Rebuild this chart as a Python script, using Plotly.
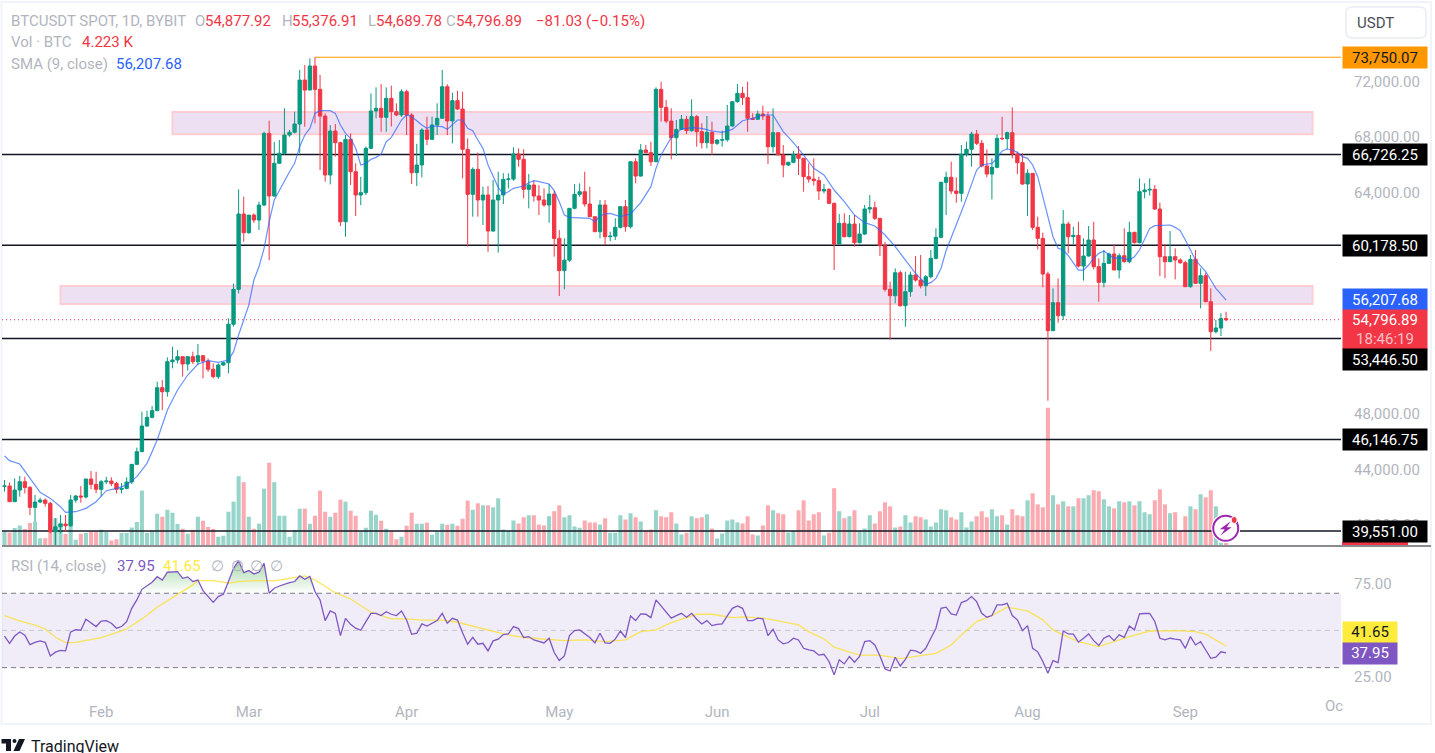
import numpy as np
import pandas as pd
import plotly.graph_objects as go

W, H = 1435, 753

# daily candles (Jan 13 .. Sep 9 2024)
dates = pd.date_range("2024-01-13", "2024-09-09", freq="D")

opens = [
    42770, 42790, 41660, 42500, 43100, 42690, 41250, 41635, 41780, 41540,
    39490, 39850, 40045, 39925, 41780, 42070, 42000, 43295, 42910, 42550,
    43100, 43150, 42980, 42550, 42620, 43080, 44355, 45270, 47120, 47750,
    48230, 49890, 49600, 51770, 51890, 52130, 51600, 52130, 51770, 52200,
    51810, 51220, 50685, 51530, 51695, 54470, 56990, 62430, 61080, 62350,
    61995, 63080, 68250, 63730, 66090, 66810, 68130, 68330, 68930, 72100,
    71380, 73115, 71430, 69500, 65245, 68420, 67580, 61870, 67820, 65485,
    63800, 63970, 67170, 69865, 70060, 69410, 70780, 69820, 69580, 71260,
    69577, 65413, 65967, 68494, 67820, 68855, 69340, 71620, 69145, 70613,
    70010, 67100, 63849, 65654, 63440, 63800, 61200, 63440, 63800, 64930,
    64950, 66760, 66380, 64210, 64520, 63730, 63440, 63080, 63870, 60670,
    58340, 59100, 62840, 63850, 64040, 63150, 62236, 61150, 63080, 60790,
    60830, 61465, 62960, 61514, 66200, 65170, 67050, 66860, 66200, 71430,
    70130, 69140, 67940, 68540, 69265, 68446, 69457, 68370, 67580, 68325,
    67530, 67770, 67790, 68783, 70540, 71140, 70830, 69337, 69265, 69650,
    69505, 67290, 68300, 66690, 65967, 66160, 66737, 66450, 65125, 64950,
    64840, 64090, 64210, 63200, 60262, 61755, 60792, 61707, 60360, 60984,
    62790, 62886, 62116, 60142, 56990, 56530, 58190, 55810, 56820, 58025,
    57660, 57250, 57900, 59230, 60745, 64715, 65080, 64090, 63920, 66738,
    67100, 68205, 67532, 65895, 65317, 65800, 67893, 67870, 68300, 66762,
    66136, 64595, 65365, 61466, 60672, 58097, 54005, 56026, 55088, 61707,
    60792, 60890, 58674, 59396, 60552, 58626, 57495, 58866, 59540, 58385,
    59420, 58987, 61105, 60360, 64042, 64160, 64210, 62790, 59348, 58987,
    59348, 59108, 58915, 57182, 59155, 57423, 57976, 56098, 53933, 54197,
    54877.92,
]
closes = [
    42790, 41660, 42500, 43100, 42690, 41250, 41635, 41780, 41540, 39490,
    39850, 40045, 39925, 41780, 42070, 42000, 43295, 42910, 42550, 43100,
    43150, 42980, 42550, 42620, 43080, 44355, 45270, 47120, 47750, 48230,
    49890, 49600, 51770, 51890, 52130, 51600, 52130, 51770, 52200, 51810,
    51220, 50685, 51530, 51695, 54470, 56990, 62430, 61080, 62350, 61995,
    63080, 68250, 63730, 66090, 66810, 68130, 68330, 68930, 72100, 71380,
    73115, 71430, 69500, 65245, 68420, 67580, 61870, 67820, 65485, 63800,
    63970, 67170, 69865, 70060, 69410, 70780, 69820, 69580, 71260, 69577,
    65413, 65967, 68494, 67820, 68855, 69340, 71620, 69145, 70613, 70010,
    67100, 63849, 65654, 63440, 63800, 61200, 63440, 63800, 64930, 64950,
    66760, 66380, 64210, 64520, 63730, 63440, 63080, 63870, 60670, 58340,
    59100, 62840, 63850, 64040, 63150, 62236, 61150, 63080, 60790, 60830,
    61465, 62960, 61514, 66200, 65170, 67050, 66860, 66200, 71430, 70130,
    69140, 67940, 68540, 69265, 68446, 69457, 68370, 67580, 68325, 67530,
    67770, 67790, 68783, 70540, 71140, 70830, 69337, 69265, 69650, 69505,
    67290, 68300, 66690, 65967, 66160, 66737, 66450, 65125, 64950, 64840,
    64090, 64210, 63200, 60262, 61755, 60792, 61707, 60360, 60984, 62790,
    62886, 62116, 60142, 56990, 56530, 58190, 55810, 56820, 58025, 57660,
    57250, 57900, 59230, 60745, 64715, 65080, 64090, 63920, 66738, 67100,
    68205, 67532, 65895, 65317, 65800, 67893, 67870, 68300, 66762, 66136,
    64595, 65365, 61466, 60672, 58097, 54005, 56026, 55088, 61707, 60792,
    60890, 58674, 59396, 60552, 58626, 57495, 58866, 59540, 58385, 59420,
    58987, 61105, 60360, 64042, 64160, 64210, 62790, 59348, 58987, 59348,
    59108, 58915, 57182, 59155, 57423, 57976, 56098, 53933, 54197, 54877.92,
    54796.89,
]
highs = [
    43220, 43050, 43340, 43510, 43460, 42790, 42140, 41950, 41900, 41660,
    40455, 40700, 40700, 42140, 42140, 42790, 43295, 43870, 43825, 43220,
    43460, 43420, 43100, 43000, 43420, 44355, 45560, 48160, 48230, 48570,
    50320, 50440, 52080, 52850, 52610, 52130, 52130, 52490, 53040, 52250,
    52000, 51650, 51650, 51770, 54900, 57400, 64210, 63680, 62350, 62480,
    63320, 68370, 69170, 67650, 67770, 70060, 68500, 69820, 72830, 73180,
    73670, 73750, 72470, 69700, 68850, 68930, 67650, 68130, 68250, 66090,
    65120, 67300, 71140, 71575, 71815, 71575, 71700, 70420, 71430, 71400,
    69700, 67500, 68620, 69457, 69457, 70420, 72827, 71800, 71190, 71330,
    71260, 67890, 65800, 66860, 64400, 64450, 64880, 65485, 65370, 65370,
    67240, 67170, 67100, 65316, 64836, 64520, 64280, 64600, 64110, 61270,
    60670, 62840, 64590, 64640, 65485, 64400, 62240, 63440, 63440, 61150,
    62120, 62960, 63440, 66250, 66450, 67480, 67410, 67650, 71576, 71985,
    70660, 70060, 69216, 69577, 69505, 70709, 69577, 68976, 69505, 69095,
    67820, 68446, 70300, 70540, 71816, 71623, 71985, 69697, 69890, 70252,
    69818, 70059, 68300, 67411, 66208, 67000, 67338, 66448, 66087, 66448,
    65124, 64595, 64282, 63250, 62429, 62477, 62357, 62357, 61755, 63079,
    63800, 63319, 62116, 60430, 57550, 58505, 58337, 58265, 58265, 59396,
    59468, 58024, 59830, 61394, 64764, 65486, 66208, 65077, 67412, 67652,
    68374, 68495, 67773, 67099, 66449, 68182, 69457, 68374, 70131, 66930,
    66810, 65655, 65365, 62236, 61081, 58265, 57061, 57784, 62718, 61875,
    61514, 61875, 60672, 61561, 61875, 59226, 59829, 59636, 60239, 59588,
    61394, 61875, 61153, 65004, 64643, 65004, 64522, 63247, 60264, 61201,
    59950, 59228, 59059, 59468, 59829, 58505, 58192, 57061, 54775, 55256,
    55376.91,
]
lows = [
    42380, 41660, 41660, 42020, 42260, 40700, 40210, 41550, 41300, 39370,
    38400, 39370, 39490, 39850, 41590, 41585, 41900, 42550, 42260, 42020,
    42930, 42780, 42260, 42260, 42560, 42935, 44310, 45270, 47070, 47670,
    48230, 48280, 49240, 51290, 51650, 50685, 51120, 51600, 51530, 50560,
    51030, 50560, 50520, 51450, 50925, 54300, 56700, 60430, 61000, 61790,
    61270, 63000, 59100, 63680, 66100, 66700, 68000, 68250, 66810, 68730,
    71380, 68970, 65600, 64760, 64570, 66570, 61560, 60790, 64520, 62280,
    63080, 63800, 67170, 69340, 68370, 68370, 68750, 69500, 69450, 68130,
    64595, 64450, 65076, 67410, 67820, 68130, 69340, 68130, 67530, 69930,
    65000, 60070, 62236, 62236, 61634, 59700, 61150, 59640, 63150, 64280,
    64830, 65850, 63560, 62840, 63320, 62355, 62960, 61800, 59350, 56510,
    56990, 58980, 62760, 63680, 62960, 62270, 61150, 60670, 60190, 60460,
    60550, 61390, 61150, 61390, 64640, 65125, 66860, 65894, 66200, 69096,
    68976, 66376, 66617, 68494, 68205, 68374, 67290, 67170, 67170, 66689,
    67411, 67290, 67650, 68735, 70468, 70300, 68370, 69216, 69216, 69216,
    66040, 66858, 66690, 65076, 65895, 66087, 65245, 64040, 64692, 64492,
    63440, 63920, 63150, 58385, 60262, 60743, 60743, 60070, 60310, 60912,
    62477, 61995, 59396, 56821, 53378, 55979, 55737, 54290, 56460, 57543,
    57061, 56508, 57783, 59155, 60671, 62357, 63873, 63247, 63319, 66570,
    65845, 67412, 65799, 65075, 63488, 65728, 67773, 67099, 66449, 65317,
    64523, 62285, 61273, 59870, 57133, 48950, 54005, 54583, 54775, 59588,
    60262, 58578, 57616, 59348, 58433, 56100, 57134, 58818, 58385, 57785,
    58915, 58867, 60310, 60310, 63560, 63753, 62718, 57952, 57784, 58963,
    57712, 58819, 57182, 57110, 57423, 55616, 56098, 52536, 53812, 53620,
    54689.78,
]
# volume in thousands of BTC
volumes = [
    21, 19.5, 26, 30, 24.5, 33.5, 35.5, 11, 11, 26,
    41, 34, 17, 41, 8.5, 17.5, 18.5, 21, 21, 23.5,
    20, 7.5, 9.5, 18.5, 18.5, 27, 35, 82, 18.5, 22.5,
    47.5, 43, 53.5, 49, 32, 25, 17.5, 23.5, 43, 37,
    27.5, 24.5, 13, 14.5, 50.5, 65.5, 103.5, 94.5, 43, 25,
    32.5, 85, 123.5, 94.5, 44.5, 44.5, 13, 23, 55, 55,
    32.5, 44.5, 82, 50.5, 43, 49, 68.5, 65.5, 52, 44.5,
    21, 26.5, 52, 46, 37, 25, 21, 9.5, 13, 29.5,
    49, 32.5, 32.5, 34, 16, 21, 32.5, 31, 32.5, 29.5,
    40, 67, 53.5, 63, 60, 60, 57, 70.5, 24, 22,
    37.5, 33, 42, 45, 45, 31.5, 30, 43.5, 51, 60,
    42, 45, 28.5, 26.5, 37.5, 34.5, 34.5, 31.5, 40.5, 19,
    19, 45, 39, 48, 42, 36, 22, 24, 52.5, 43.5,
    42, 49.5, 33, 16.5, 19, 43.5, 40.5, 42, 46.5, 25.5,
    10.5, 18, 37.5, 39, 34.5, 33, 43.5, 16.5, 15, 30,
    60, 52.5, 48, 46.5, 19.5, 22, 52.5, 67.5, 37.5, 46.5,
    49.5, 15, 19, 85.5, 51, 40.5, 43.5, 52.5, 22, 25.5,
    45, 33, 51, 64.5, 58.5, 27, 28.5, 45, 34.5, 43.5,
    42, 39, 28.5, 34.5, 54, 52.5, 42, 39, 49.5, 27,
    36, 43.5, 51, 42, 54, 43.5, 45, 31.5, 54, 45,
    43.5, 67.5, 78, 61.5, 57, 205.5, 75, 61.5, 66, 58.5,
    58.5, 70.5, 70.5, 75, 82.5, 81, 69, 58.5, 55.5, 66,
    64.5, 66, 60, 66, 49.5, 46.5, 67.5, 84, 61.5, 48,
    49.5, 22, 43.5, 58.5, 54, 76.5, 72, 82.5, 58.5, 4,
    4.223,
]
rsi = [
    47, 43.1, 47, 49.2, 47.4, 42.4, 43.6, 44.4, 43.6, 36.3,
    38.3, 39.3, 39, 49.2, 50.4, 50.1, 56, 53.9, 52.1, 55,
    55.3, 53.9, 51.2, 52.1, 54.7, 61.9, 66.4, 72.1, 73.9, 75.9,
    78.9, 77.1, 81.3, 81.4, 81.6, 78, 78.8, 76.3, 77.1, 71.4,
    68.5, 65.1, 68.2, 69.4, 76.3, 83.4, 87.5, 81.1, 82.2, 80.4,
    81.3, 86.1, 70, 72.7, 73.9, 75, 75.7, 76.3, 79.3, 77.5,
    79, 70.9, 66.4, 55.3, 60.5, 59.2, 47.2, 56.5, 53.3, 51.2,
    50.1, 54.7, 59.2, 59.2, 58, 60.1, 58.7, 58, 60.5, 55.6,
    47.9, 48.5, 53.5, 52.4, 53.9, 55.3, 59.2, 53.9, 56.5, 55.6,
    48.8, 42.6, 46.3, 42.6, 43.1, 39, 44.4, 45.3, 47.8, 48.1,
    52.1, 51, 46.2, 46.7, 44.9, 44.2, 43.3, 45.8, 38.1, 33.8,
    36.3, 47.2, 49.9, 50.3, 48.1, 46.2, 43.3, 48.5, 43.3, 43.1,
    45.3, 49.7, 46.2, 57.8, 55.3, 58.9, 58.7, 56.9, 66.4, 63.2,
    60.1, 56.6, 58, 59.2, 57.1, 59.2, 56, 53.5, 55.3, 52.6,
    53.3, 53.5, 57.8, 61.9, 63.2, 61.9, 55.3, 55.3, 56.6, 56.2,
    47.2, 50.6, 44.9, 42.8, 43.5, 45.8, 44.9, 40.4, 39.5, 39,
    36.7, 37.2, 33.3, 26.1, 34.2, 32, 36, 32.9, 36, 44,
    44.5, 42.2, 36.3, 29.3, 28.2, 35.6, 30.9, 34.5, 39.4, 39,
    37.7, 40.4, 45.8, 51.2, 61.9, 62.5, 58.9, 58.3, 65, 66,
    68.2, 65.5, 59.2, 57.1, 58, 63.7, 63.7, 64.6, 58, 55.7,
    49.9, 52.6, 40.4, 38.5, 33.3, 27, 33.8, 32.7, 49.7, 48.1,
    48, 43.7, 45.8, 48.1, 44.5, 41.9, 45.8, 47.2, 44.5, 47.6,
    46.3, 52.4, 50.3, 58.9, 59.1, 59.1, 54.8, 45.8, 44.9, 45.8,
    45.3, 44.9, 40.4, 46.7, 42.2, 44, 39.5, 35, 35.6, 38.5,
    37.95,
]
# moving averages were read at these candle numbers only
sma_idx = [
    0, 1, 3, 5, 7, 9, 11, 12, 14, 16, 18, 20, 22, 24, 26, 28, 30, 32, 34, 36,
    38, 40, 42, 44, 45, 46, 47, 48, 49, 50, 51, 52, 53, 54, 55, 56, 57, 58, 59,
    60, 61, 62, 64, 65, 66, 67, 68, 69, 70, 71, 72, 73, 74, 75, 76, 77, 78, 79,
    80, 81, 82, 83, 84, 86, 87, 89, 90, 91, 92, 93, 94, 95, 96, 97, 98, 99, 100,
    101, 102, 103, 104, 105, 106, 107, 108, 109, 110, 111, 115, 116, 117, 118,
    119, 120, 121, 123, 124, 125, 127, 128, 129, 131, 133, 135, 137, 139, 141,
    143, 145, 147, 149, 151, 153, 155, 157, 159, 161, 163, 165, 167, 169, 171,
    173, 175, 177, 179, 181, 182, 183, 184, 185, 186, 187, 188, 189, 190, 191,
    192, 193, 194, 195, 196, 197, 198, 199, 200, 201, 202, 203, 204, 205, 206,
    207, 208, 209, 210, 211, 212, 213, 214, 215, 216, 217, 218, 219, 220, 221,
    222, 223, 224, 225, 226, 227, 228, 229, 230, 231, 232, 233, 234, 235, 236,
    237, 238, 239, 240,
]
sma_vals = [
    44956, 44620, 44378, 43344, 42332, 41899, 41297, 40888, 40936, 41177, 41658,
    42453, 42621, 42862, 43464, 44427, 46111, 48278, 49722, 50805, 51600, 51840,
    51720, 51888, 52490, 53693, 54776, 55860, 57662, 58625, 59950, 61875, 63440,
    64161, 64763, 65485, 66086, 67290, 68133, 68614, 69697, 69890, 69890, 69697,
    68855, 68253, 67892, 67170, 65966, 66086, 66375, 66520, 66760, 67651, 67964,
    68614, 69216, 69577, 69457, 69168, 68855, 68614, 68783, 68735, 68542, 69216,
    69216, 68615, 68446, 67772, 67170, 65967, 65124, 64354, 63873, 64041, 64282,
    64354, 64450, 64691, 64836, 64764, 64691, 64595, 64114, 63319, 62356, 62188,
    62116, 61875, 62284, 62429, 62477, 62356, 62236, 62429, 62838, 63247, 64402,
    65726, 66689, 67965, 68566, 68663, 68615, 68422, 68326, 68542, 69168, 69337,
    69578, 69578, 68374, 67580, 66689, 65726, 65245, 64162, 63319, 62356, 61803,
    61562, 60912, 60070, 59107, 58144, 57374, 57470, 57783, 58500, 59800, 60700,
    61635, 62597, 63560, 64643, 65606, 65967, 66040, 66088, 66449, 66978, 67123,
    67050, 66882, 66569, 66449, 65967, 65125, 63681, 62116, 60792, 59950, 59830,
    59420, 58866, 58385, 58385, 58746, 59228, 59589, 59757, 59468, 59228, 59276,
    59228, 59108, 59348, 59830, 60672, 61394, 61587, 61587, 61635, 61635, 61466,
    61225, 60552, 59830, 59108, 58674, 58265, 57663, 57062, 56652, 56207.68,
]
rsi_ma_idx = [
    0, 3, 6, 8, 10, 12, 14, 17, 19, 22, 24, 27, 30, 34, 37, 38, 41, 44, 46, 49,
    53, 56, 59, 61, 65, 68, 72, 76, 79, 82, 86, 89, 93, 98, 102, 106, 110, 114,
    118, 122, 125, 128, 131, 136, 139, 143, 145, 149, 151, 156, 158, 161, 163,
    166, 168, 172, 176, 180, 183, 186, 188, 191, 194, 197, 201, 204, 206, 208,
    211, 215, 219, 221, 225, 230, 234, 236, 240,
]
rsi_ma_vals = [
    58, 55.1, 52.9, 50.8, 46.3, 43.5, 43.6, 44.9, 46.1, 48.8, 50.8, 56.2, 62.5,
    69.4, 74.5, 76.8, 76.8, 75.4, 76.3, 76.8, 76.6, 78, 79.3, 77.1, 70.3, 66.9,
    59.8, 56.2, 56.2, 55.6, 55.6, 54.4, 51.5, 48.1, 46.2, 45.4, 44.5, 44.9, 44,
    44.9, 49.4, 50.3, 54.2, 58.7, 58.7, 56.9, 57.3, 56.6, 55.7, 53, 49.4, 45.4,
    41, 38.3, 36.7, 36.7, 34.9, 36.5, 37.7, 42.2, 47.6, 54.8, 58, 62.5, 60.5,
    55.7, 50.3, 47.6, 44, 41.3, 44.9, 46.7, 49.7, 49.9, 49.4, 48, 41.65,
]

level_prices = [66726.25, 60178.50, 53446.50, 46146.75, 39551.00]
ath_price = 73750.07
last_price = 54796.89
zone_tops = [69795, 57232]
zone_bottoms = [68184, 55932]
zone_starts = ["2024-02-15", "2024-01-24"]
zone_end = "2024-09-26"

price_ticks = [72000, 68000, 64000, 48000, 44000, 40000]
rsi_ticks = [75, 25]
rsi_levels = [70, 50, 30]
month_ticks = ["2024-02-01", "2024-03-01", "2024-04-01", "2024-05-01",
               "2024-06-01", "2024-07-01", "2024-08-01", "2024-09-01"]
month_labels = ["Feb", "Mar", "Apr", "May", "Jun", "Jul", "Aug", "Sep"]

for series in (opens, closes, highs, lows, volumes, rsi):
    assert len(series) == len(dates), len(series)
assert len(sma_idx) == len(sma_vals), (len(sma_idx), len(sma_vals))
assert len(rsi_ma_idx) == len(rsi_ma_vals), (len(rsi_ma_idx), len(rsi_ma_vals))

UP, DOWN = "#089981", "#F23645"
GREY = "#b2b5be"
FONT = "Roboto"
x_start, x_end = pd.Timestamp("2024-01-12 12:15"), pd.Timestamp("2024-10-01 14:00")
x_range = [x_start, x_end]


def px(x):
    return x / W


def py(y):
    return 1 - y / H


def path(points):
    return "M" + " L".join(f"{px(x):.5f},{py(y):.5f}" for x, y in points) + " Z"


def tag(text, x0, x1, yc, h, bg, color="white"):
    return dict(text=text, xref="paper", yref="paper", x=px(x0), y=py(yc), xanchor="left",
                yanchor="middle", width=x1 - x0, height=h, align="center", valign="middle",
                bgcolor=bg, borderpad=0, showarrow=False, font=dict(family=FONT, size=15, color=color))


def label(text, x, y, size=15, color=GREY):
    # annotations pad their text by about 2px
    return dict(text=text, xref="paper", yref="paper", x=px(x - 2), y=py(y), xanchor="left",
                yanchor="middle", showarrow=False, align="left",
                font=dict(family=FONT, size=size, color=color))


fig = go.Figure()

# volume sits lowest
vol_colors = ["rgba(8,153,129,0.42)" if c >= o else "rgba(242,54,69,0.42)" for o, c in zip(opens, closes)]
fig.add_trace(go.Bar(x=dates, y=volumes, marker=dict(color=vol_colors, line_width=0), yaxis="y", xaxis="x"))

# levels go between volume and candles
for level in level_prices:
    fig.add_trace(go.Scatter(x=x_range, y=[level, level], mode="lines", yaxis="y2", xaxis="x",
                             line=dict(color="#131722", width=1.5)))
fig.add_trace(go.Scatter(x=[dates[61], x_end], y=[ath_price, ath_price], mode="lines", yaxis="y2", xaxis="x",
                         line=dict(color="#ff9800", width=1)))
fig.add_trace(go.Scatter(x=x_range, y=[last_price, last_price], mode="lines", yaxis="y2", xaxis="x",
                         line=dict(color=DOWN, width=1, dash="1px,3px")))

fig.add_trace(go.Candlestick(
    x=dates, open=opens, high=highs, low=lows, close=closes, yaxis="y3", xaxis="x",
    increasing=dict(line=dict(color=UP, width=1), fillcolor=UP),
    decreasing=dict(line=dict(color=DOWN, width=1), fillcolor=DOWN),
    whiskerwidth=0,
))
fig.add_trace(go.Scatter(x=dates[sma_idx], y=sma_vals, mode="lines", yaxis="y3", xaxis="x",
                         line=dict(color="rgba(41,98,255,0.7)", width=1.2)))

# RSI pane
rsi_arr = np.array(rsi)
fig.add_trace(go.Scatter(x=dates, y=[70] * len(dates), mode="lines", line=dict(width=0),
                         yaxis="y4", xaxis="x2"))
fig.add_trace(go.Scatter(x=dates, y=np.maximum(rsi_arr, 70), mode="lines", line=dict(width=0),
                         fill="tonexty", yaxis="y4", xaxis="x2",
                         fillgradient=dict(type="vertical", colorscale=[[0, "rgba(76,175,80,0)"],
                                                                        [1, "rgba(76,175,80,0.5)"]])))
fig.add_trace(go.Scatter(x=dates[rsi_ma_idx], y=rsi_ma_vals, mode="lines", yaxis="y4", xaxis="x2",
                         line=dict(color="rgba(250,226,60,0.85)", width=1.3)))
fig.add_trace(go.Scatter(x=dates, y=rsi, mode="lines", yaxis="y4", xaxis="x2",
                         line=dict(color="#7E57C2", width=1.3)))

shapes = []
for top, bottom, start in zip(zone_tops, zone_bottoms, zone_starts):
    shapes.append(dict(type="rect", xref="x", yref="y3", x0=start, x1=zone_end, y0=bottom, y1=top,
                       fillcolor="#eee0f3", line=dict(color="#ffcdd2", width=2), layer="below"))
shapes.append(dict(type="rect", xref="x2", yref="y4", x0=x_start, x1=x_end, y0=30, y1=70,
                   fillcolor="rgba(126,87,194,0.115)", line_width=0, layer="below"))
for level in rsi_levels:
    shapes.append(dict(type="line", xref="x2", yref="y4", x0=x_start, x1=x_end, y0=level, y1=level, layer="below",
                       line=dict(color="#787b86" if level != 50 else "#c8c8d0", width=1, dash="5px,4px")))

# frame and pane divider
shapes.append(dict(type="rect", xref="paper", yref="paper", x0=px(1.5), x1=px(1431), y0=py(724), y1=py(2),
                   line=dict(color="#f0f3fa", width=2), layer="below"))
shapes.append(dict(type="line", xref="paper", yref="paper", x0=px(2), x1=px(1431), y0=py(546), y1=py(546),
                   line=dict(color="#8b8b8f", width=2)))
# clipped red volume tag below the 39,551 tag
shapes.append(dict(type="rect", xref="paper", yref="paper", x0=px(1342), x1=px(1408), y0=py(545), y1=py(542),
                   fillcolor=DOWN, line_width=0))
# USDT button
bx0, bx1, by0, by1, r = 1346, 1426, 7, 38, 6
shapes.append(dict(type="path", xref="paper", yref="paper",
                   path=(f"M{px(bx0 + r)},{py(by0)} L{px(bx1 - r)},{py(by0)} Q{px(bx1)},{py(by0)} {px(bx1)},{py(by0 + r)} "
                         f"L{px(bx1)},{py(by1 - r)} Q{px(bx1)},{py(by1)} {px(bx1 - r)},{py(by1)} "
                         f"L{px(bx0 + r)},{py(by1)} Q{px(bx0)},{py(by1)} {px(bx0)},{py(by1 - r)} "
                         f"L{px(bx0)},{py(by0 + r)} Q{px(bx0)},{py(by0)} {px(bx0 + r)},{py(by0)} Z"),
                   fillcolor="white", line=dict(color="#e9ecf4", width=1.5)))
# lightning badge
cx, cy = 1225.7, 528.3
shapes.append(dict(type="circle", xref="paper", yref="paper", x0=px(cx - 14.5), x1=px(cx + 14.5),
                   y0=py(cy + 14.5), y1=py(cy - 14.5), fillcolor="white", line_width=0))
shapes.append(dict(type="circle", xref="paper", yref="paper", x0=px(cx - 12.5), x1=px(cx + 12.5),
                   y0=py(cy + 12.5), y1=py(cy - 12.5), fillcolor="white", line=dict(color="#9c27b0", width=2)))
shapes.append(dict(type="path", xref="paper", yref="paper", fillcolor="#9c27b0", line_width=0,
                   path=path([(cx + 5, cy - 7), (cx - 6, cy + 1), (cx - 1, cy + 1), (cx - 5, cy + 7),
                              (cx + 6, cy - 1), (cx + 1, cy - 1)])))
shapes.append(dict(type="circle", xref="paper", yref="paper", x0=px(cx + 5.5), x1=px(cx + 11.5),
                   y0=py(520 + 3.5), y1=py(520 - 3.5), fillcolor=DOWN, line=dict(color="white", width=1)))
# TradingView logo
logo = "#131722"
shapes.append(dict(type="path", xref="paper", yref="paper", fillcolor=logo, line_width=0,
                   path=path([(1.5, 739), (11, 739), (11, 751), (6, 751), (6, 743.5), (1.5, 743.5)])))
shapes.append(dict(type="circle", xref="paper", yref="paper", x0=px(12.5), x1=px(16.5), y0=py(743), y1=py(739),
                   fillcolor=logo, line_width=0))
shapes.append(dict(type="path", xref="paper", yref="paper", fillcolor=logo, line_width=0,
                   path=path([(19, 739), (25, 739), (19.5, 751), (13.5, 751)])))

annotations = [
    label("BTCUSDT SPOT, 1D, BYBIT", 11, 21),
    label("O", 195, 21), label("54,877.92", 205, 21, color=DOWN),
    label("H", 282, 21), label("55,376.91", 292, 21, color=DOWN),
    label("L", 368, 21), label("54,689.78", 376, 21, color=DOWN),
    label("C", 446, 21), label("54,796.89", 456, 21, color=DOWN),
    label("−81.03 (−0.15%)", 536, 21, color=DOWN),
    label("Vol · BTC", 11, 42), label("4.223 K", 82, 42, color=DOWN),
    label("SMA (9, close)", 11, 64), label("56,207.68", 116, 64, color="#2962ff"),
    label("RSI (14, close)", 11, 566), label("37.95", 117, 566, color="#7E57C2"),
    label("41.65", 163, 566, color="#FFEB3B"),
    label("∅", 211, 566), label("∅", 231, 566), label("∅", 250, 566), label("∅", 270, 566),
    label("Oc", 1325, 706),
    label("USDT", 1357, 23, color="#4a4d57"),
    label("TradingView", 31, 746, size=16, color="#131722"),
    tag("73,750.07", 1342, 1426, 57.5, 21, "#ff9800", "#131722"),
    tag("66,726.25", 1342, 1426, 154.5, 21, "#000000"),
    tag("60,178.50", 1342, 1426, 245.5, 21, "#000000"),
    tag("56,207.68", 1342, 1426, 299, 21, "#2962ff"),
    tag("54,796.89<br><span style='color:#f9c0c5'>18:46:19</span>", 1342, 1426, 329.5, 39, DOWN),
    tag("53,446.50", 1342, 1426, 359.5, 21, "#000000"),
    tag("46,146.75", 1342, 1426, 439.5, 21, "#000000"),
    tag("39,551.00", 1342, 1426, 531.5, 21, "#000000"),
    tag("41.65", 1342, 1396, 632, 20.5, "#FFEB3B", "#131722"),
    tag("37.95", 1342, 1396, 653, 20.5, "#7E57C2"),
]

price_dom = [py(545.5), py(10)]
rsi_dom = [py(692), py(547.5)]
x_dom = [px(2), px(1341)]
price_range = [38496, 77159]

fig.update_layout(
    width=W, height=H, autosize=False,
    margin=dict(l=0, r=0, t=0, b=0),
    paper_bgcolor="white", plot_bgcolor="white",
    showlegend=False, hovermode=False,
    bargap=0.2, boxgap=0.06,
    font=dict(family=FONT, size=15, color=GREY),
    shapes=shapes, annotations=annotations,
    xaxis=dict(domain=x_dom, range=x_range, type="date", anchor="y", rangeslider=dict(visible=False),
               showticklabels=False, ticks="", showgrid=False, zeroline=False, showline=False),
    xaxis2=dict(domain=x_dom, range=x_range, type="date", anchor="y4", matches="x",
                tickvals=month_ticks, ticktext=month_labels, ticks="outside", ticklen=6,
                tickcolor="rgba(0,0,0,0)", showgrid=False, zeroline=False, showline=False,
                tickfont=dict(family=FONT, size=15, color=GREY)),
    yaxis=dict(domain=price_dom, range=[0, 799.5], visible=False, fixedrange=True),
    yaxis2=dict(domain=price_dom, range=price_range, overlaying="y", visible=False, anchor="x"),
    yaxis3=dict(domain=price_dom, range=price_range, overlaying="y", anchor="x", side="right",
                tickvals=price_ticks, ticktext=[f"{v:,.2f}" for v in price_ticks], ticks="outside", ticklen=9,
                tickcolor="rgba(0,0,0,0)", showgrid=False, zeroline=False, showline=False,
                tickfont=dict(family=FONT, size=15, color=GREY)),
    yaxis4=dict(domain=rsi_dom, range=[16.9, 94.6], anchor="x2", side="right",
                tickvals=rsi_ticks, ticktext=[f"{v:.2f}" for v in rsi_ticks], ticks="outside", ticklen=9,
                tickcolor="rgba(0,0,0,0)", showgrid=False, zeroline=False, showline=False,
                tickfont=dict(family=FONT, size=15, color=GREY)),
)

fig.write_html("out.html", config={"displayModeBar": False},
               post_script="document.body.style.margin='0';document.body.style.overflow='hidden';")
